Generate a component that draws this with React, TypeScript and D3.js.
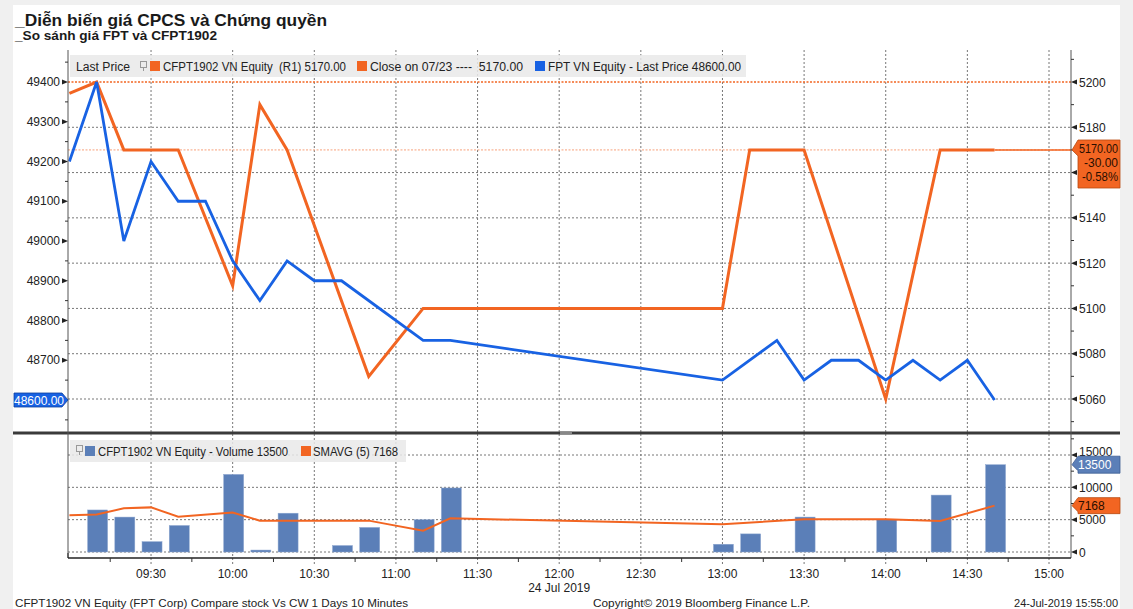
import React from "react";
import * as d3 from "d3";

// CFPT1902 (right axis)
const cwTimes = ["09:00", "09:10", "09:20", "09:30", "09:40", "10:00", "10:10", "10:20", "10:50", "11:10", "13:00", "13:10", "13:20", "13:30", "14:00", "14:20", "14:30", "14:40"];
const cwPrices = [5195, 5200, 5170, 5170, 5170, 5110, 5190, 5170, 5070, 5100, 5100, 5170, 5170, 5170, 5060, 5170, 5170, 5170];

// FPT (left axis)
const fptTimes = ["09:00", "09:10", "09:20", "09:30", "09:40", "09:50", "10:00", "10:10", "10:20", "10:30", "10:40", "11:10", "11:20", "13:00", "13:20", "13:30", "13:40", "13:50", "14:00", "14:10", "14:20", "14:30", "14:40"];
const fptPrices = [49200, 49400, 49000, 49200, 49100, 49100, 48950, 48850, 48950, 48900, 48900, 48750, 48750, 48650, 48750, 48650, 48700, 48700, 48650, 48700, 48650, 48700, 48600];

// volume bars
const volTimes = ["09:10", "09:20", "09:30", "09:40", "10:00", "10:10", "10:20", "10:40", "10:50", "11:10", "11:20", "13:00", "13:10", "13:30", "14:00", "14:20", "14:40"];
const volumes = [6500, 5400, 1600, 4100, 12000, 300, 6000, 1000, 3800, 5000, 9900, 1200, 2800, 5400, 5000, 8800, 13500];

// SMAVG(5)
const smaTimes = ["09:00", "09:10", "09:20", "09:30", "09:40", "10:00", "10:10", "10:50", "11:10", "11:20", "13:00", "13:30", "14:00", "14:20", "14:40"];
const smaValues = [5700, 5800, 6750, 6900, 5450, 6100, 4850, 4850, 3300, 5200, 4300, 5050, 5050, 4800, 7168];

const xTickLabels = ["09:30", "10:00", "10:30", "11:00", "11:30", "12:00", "12:30", "13:00", "13:30", "14:00", "14:30", "15:00"];
const leftTicks = [48600, 48700, 48800, 48900, 49000, 49100, 49200, 49300, 49400];
const rightTicks = [5060, 5080, 5100, 5120, 5140, 5160, 5180, 5200];
const volTicks = [0, 5000, 10000, 15000];

const ORANGE = "#f26522";
const BLUE = "#1862e3";
const BAR = "#5b7fb8";
const FONT = "'Liberation Sans', Arial, sans-serif";

const PL = 68, PR = 1071, TOP = 50, SEP = 433, BOT = 558;

const parse = d3.timeParse("%H:%M");
const t = (s: string) => parse(s) as Date;

// labels hidden under the value callouts
const hiddenLeft = [48600];
const hiddenRight = [5160];

export default function App() {
  const x = d3.scaleTime().domain([t("09:00"), t("15:00")]).range([69.4, 1049]);
  const yL = d3.scaleLinear().domain([48600, 49400]).range([400, 82]);
  const yR = d3.scaleLinear().domain([5060, 5200]).range([399, 82]);
  const yV = d3.scaleLinear().domain([0, 15000]).range([552, 455]);

  const cwLine = d3.line<number>().x((_, i) => x(t(cwTimes[i]))).y((d) => yR(d));
  const fptLine = d3.line<number>().x((_, i) => x(t(fptTimes[i]))).y((d) => yL(d));
  const smaLine = d3.line<number>().x((_, i) => x(t(smaTimes[i]))).y((d) => yV(d));

  const majors = xTickLabels.map((s) => x(t(s)));
  const minors = d3.range(15, 370, 30).map((m) => x(d3.timeMinute.offset(t("09:00"), m))).filter((v) => v < PR);
  const leftMinor = d3.range(48550, 49451, 50).filter((v) => v % 100 !== 0);
  const rightMinor = d3.range(5050, 5211, 10).filter((v) => v % 20 !== 0);
  const volMinor = [2500, 7500, 12500, 17500];

  const lastCw = cwPrices[cwPrices.length - 1];
  const lastX = x(t(cwTimes[cwTimes.length - 1]));

  const grid = { stroke: "#777", strokeWidth: 1, strokeDasharray: "2,2" } as const;
  const fit = { lengthAdjust: "spacingAndGlyphs" } as const;

  const rightCallout = (y: number, top: number, bottom: number) =>
    `M${PR + 1},${y} L${PR + 7},${top} H1120 V${bottom} H${PR + 7} V${y + 6} Z`;

  return (
    <svg width={1133} height={609} style={{ position: "absolute", left: 0, top: 0 }} fontFamily={FONT}>
      <rect width={1133} height={609} fill="#f0f0f0" />
      <rect x={13} y={5} width={1107} height={604} fill="#ffffff" />

      <text x={15} y={26} fontSize={17} fontWeight="bold" fill="#1a1a1a" textLength={312} {...fit}>_Diễn biến giá CPCS và Chứng quyền</text>
      <text x={15} y={40} fontSize={12} fontWeight="bold" fill="#1a1a1a" textLength={202} {...fit}>_So sánh giá FPT và CFPT1902</text>

      {/* vertical grid */}
      {majors.map((v, i) => (
        <line key={"vg" + i} x1={v} x2={v} y1={TOP} y2={BOT + 8} {...grid} />
      ))}
      {/* horizontal grid top */}
      {rightTicks.filter((v) => v !== 5200).map((v) => (
        <line key={"hg" + v} x1={PL} x2={PR} y1={yR(v)} y2={yR(v)} {...grid} />
      ))}
      {/* horizontal grid bottom */}
      {volTicks.map((v) => (
        <line key={"vgb" + v} x1={PL} x2={PR} y1={yV(v)} y2={yV(v)} {...grid} />
      ))}

      {/* previous close and last price lines */}
      <line x1={PL} x2={PR} y1={yR(5200)} y2={yR(5200)} stroke={ORANGE} strokeWidth={1.6} strokeDasharray="2,1.5" />
      <line x1={PL} x2={PR} y1={yR(lastCw)} y2={yR(lastCw)} stroke="#f7a07a" strokeWidth={1} strokeDasharray="2,1.5" />
      <line x1={lastX} x2={PR} y1={yR(lastCw)} y2={yR(lastCw)} stroke={ORANGE} strokeWidth={1.5} />

      {/* legend top */}
      <rect x={70} y={55} width={676} height={22} fill="#e9e9e9" fillOpacity={0.85} />
      <text x={76} y={71} fontSize={12} fill="#222" textLength={54} {...fit}>Last Price</text>
      <rect x={140.5} y={61.5} width={6} height={6} fill="none" stroke="#999" />
      <line x1={143.5} x2={143.5} y1={67.5} y2={71} stroke="#999" />
      <rect x={150} y={61} width={10} height={10} fill={ORANGE} />
      <text x={163} y={71} fontSize={12} fill="#222" xmlSpace="preserve" textLength={183} {...fit}>CFPT1902 VN Equity  (R1) 5170.00</text>
      <rect x={357} y={61} width={10} height={10} fill={ORANGE} />
      <text x={370} y={71} fontSize={12} fill="#222" xmlSpace="preserve" textLength={153} {...fit}>Close on 07/23 ----  5170.00</text>
      <rect x={535} y={61} width={10} height={10} fill={BLUE} />
      <text x={548} y={71} fontSize={12} fill="#222" textLength={193} {...fit}>FPT VN Equity - Last Price 48600.00</text>

      {/* price lines */}
      <path d={cwLine(cwPrices) || ""} fill="none" stroke={ORANGE} strokeWidth={3} strokeLinejoin="miter" />
      <path d={fptLine(fptPrices) || ""} fill="none" stroke={BLUE} strokeWidth={2.8} strokeLinejoin="miter" />

      {/* volume bars */}
      {volumes.map((v, i) => {
        const cx = x(t(volTimes[i])) + 1;
        return (
          <rect key={"b" + i} x={cx - 10} y={yV(v)} width={20} height={yV(0) - yV(v)} fill={BAR} stroke="#8fa8d0" strokeWidth={0.5} />
        );
      })}
      <path d={smaLine(smaValues) || ""} fill="none" stroke={ORANGE} strokeWidth={2} />

      {/* legend bottom */}
      <rect x={70} y={440} width={336} height={22} fill="#e9e9e9" fillOpacity={0.85} />
      <rect x={76.5} y={445.5} width={6} height={6} fill="none" stroke="#999" />
      <line x1={79.5} x2={79.5} y1={451.5} y2={455} stroke="#999" />
      <rect x={85} y={446} width={10} height={10} fill={BAR} />
      <text x={98} y={456} fontSize={12} fill="#222" textLength={190} {...fit}>CFPT1902 VN Equity - Volume 13500</text>
      <rect x={301} y={446} width={10} height={10} fill={ORANGE} />
      <text x={313} y={456} fontSize={12} fill="#222" textLength={85} {...fit}>SMAVG (5) 7168</text>

      {/* separator */}
      <line x1={13} x2={1120} y1={SEP} y2={SEP} stroke="#3a3a3a" strokeWidth={3} />
      <rect x={560} y={431.5} width={12} height={3} fill="#888" />

      {/* axes */}
      <line x1={PL} x2={PL} y1={TOP} y2={BOT} stroke="#555" />
      <line x1={PR} x2={PR} y1={TOP} y2={BOT} stroke="#555" />
      <line x1={PL} x2={PR} y1={BOT} y2={BOT} stroke="#222" strokeWidth={1.5} />

      {/* left axis */}
      {leftTicks.map((v) => (
        <g key={"lt" + v}>
          <path d={`M${PL},${yL(v)} L${PL - 6},${yL(v) - 2.5} L${PL - 6},${yL(v) + 2.5} Z`} fill="#222" />
          {!hiddenLeft.includes(v) && (
            <text x={60} y={yL(v) + 4} fontSize={12} textAnchor="end" fill="#222">{v}</text>
          )}
        </g>
      ))}
      {leftMinor.map((v) => (
        <line key={"lm" + v} x1={PL - 3} x2={PL} y1={yL(v)} y2={yL(v)} stroke="#333" />
      ))}

      {/* right axis */}
      {rightTicks.map((v) => (
        <g key={"rt" + v}>
          <path d={`M${PR},${yR(v)} L${PR + 6},${yR(v) - 2.5} L${PR + 6},${yR(v) + 2.5} Z`} fill="#222" />
          {!hiddenRight.includes(v) && (
            <text x={1079} y={yR(v) + 4.5} fontSize={12} fill="#222">{v}</text>
          )}
        </g>
      ))}
      {rightMinor.map((v) => (
        <line key={"rm" + v} x1={PR} x2={PR + 3} y1={yR(v)} y2={yR(v)} stroke="#333" />
      ))}

      {/* volume axis */}
      {volTicks.map((v) => (
        <g key={"vt" + v}>
          <path d={`M${PR},${yV(v)} L${PR + 6},${yV(v) - 2.5} L${PR + 6},${yV(v) + 2.5} Z`} fill="#222" />
          <text x={1079} y={yV(v) + (v === 15000 ? 1 : 4.5)} fontSize={12} fill="#222">{v}</text>
        </g>
      ))}
      {volMinor.map((v) => (
        <line key={"vm" + v} x1={PR} x2={PR + 3} y1={yV(v)} y2={yV(v)} stroke="#333" />
      ))}

      {/* x axis */}
      {minors.map((v, i) => (
        <line key={"xm" + i} x1={v} x2={v} y1={BOT} y2={BOT + 4} stroke="#333" />
      ))}
      <line x1={PL} x2={PL} y1={BOT - 5} y2={BOT} stroke="#222" />
      {xTickLabels.map((s, i) => (
        <text key={"xl" + s} x={majors[i]} y={578} fontSize={12} textAnchor="middle" fill="#222">{s}</text>
      ))}
      <text x={x(t("12:00"))} y={592} fontSize={12} textAnchor="middle" fill="#222">24 Jul 2019</text>

      {/* callouts */}
      <path d={rightCallout(yR(lastCw), 140, 188)} fill={ORANGE} stroke="#b84a10" strokeWidth={0.8} />
      <text x={1118} y={153} fontSize={12} textAnchor="end" fill="#2a0e00" textLength={39} {...fit}>5170.00</text>
      <text x={1118} y={167} fontSize={12} textAnchor="end" fill="#2a0e00" textLength={34} {...fit}>-30.00</text>
      <text x={1118} y={181} fontSize={12} textAnchor="end" fill="#2a0e00" textLength={36} {...fit}>-0.58%</text>

      <path d={`M14,393 H62 L${PL},${yL(48600)} L62,407 H14 Z`} fill={BLUE} stroke="#0e3f9c" strokeWidth={0.8} />
      <text x={39} y={404.5} fontSize={12} textAnchor="middle" fill="#fff">48600.00</text>

      <path d={rightCallout(yV(13500), yV(13500) - 8.5, yV(13500) + 8.5)} fill={BAR} stroke="#3d5d92" strokeWidth={0.8} />
      <text x={1078} y={yV(13500) + 4.5} fontSize={12} fill="#fff">13500</text>
      <path d={rightCallout(yV(7168), yV(7168) - 8, yV(7168) + 8)} fill={ORANGE} stroke="#b84a10" strokeWidth={0.8} />
      <text x={1078} y={yV(7168) + 4.5} fontSize={12} fill="#2a0e00">7168</text>

      {/* footer */}
      <text x={15} y={607} fontSize={11} fill="#222" textLength={393} {...fit}>CFPT1902 VN Equity (FPT Corp) Compare stock Vs CW 1 Days 10 Minutes</text>
      <text x={593} y={607} fontSize={11} fill="#222" textLength={217} {...fit}>Copyright© 2019 Bloomberg Finance L.P.</text>
      <text x={1118} y={607} fontSize={11} textAnchor="end" fill="#222">24-Jul-2019 15:55:00</text>
    </svg>
  );
}
